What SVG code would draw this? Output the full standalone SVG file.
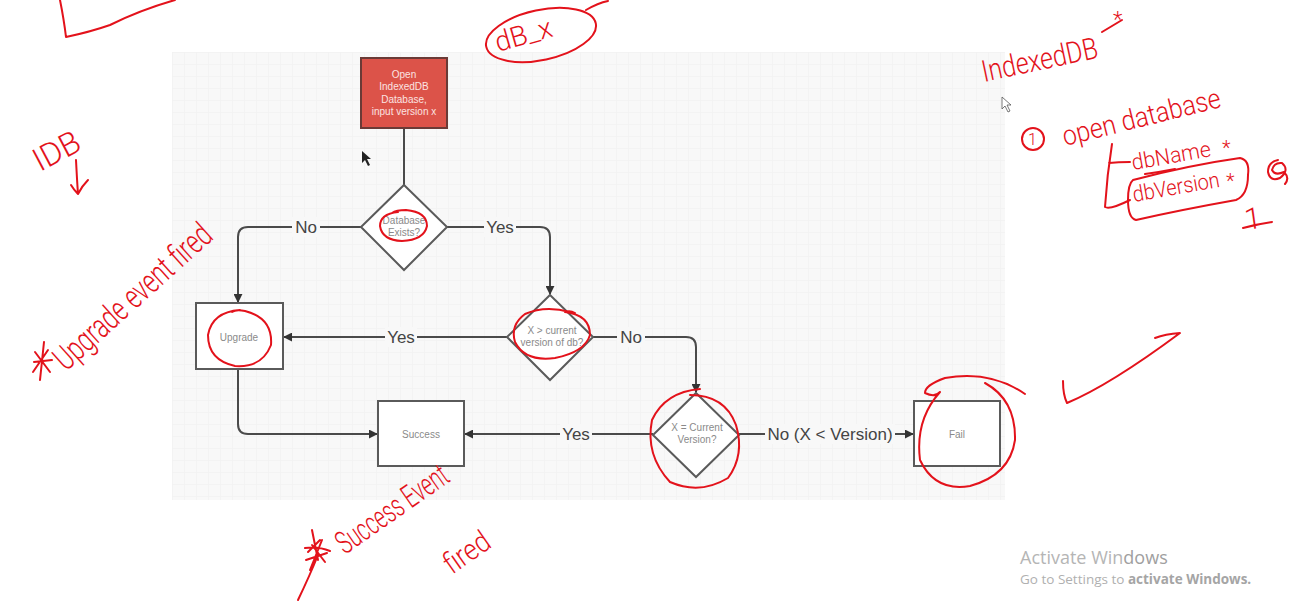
<svg xmlns="http://www.w3.org/2000/svg" width="1295" height="603" viewBox="0 0 1295 603">
<defs>
<pattern id="grid" x="172" y="52" width="12" height="12" patternUnits="userSpaceOnUse">
<path d="M12 0H0V12" fill="none" stroke="#ececec" stroke-width="1"/>
</pattern>
<marker id="arr" viewBox="0 0 10 10" refX="9" refY="5" markerWidth="9" markerHeight="9" markerUnits="userSpaceOnUse" orient="auto">
<path d="M0 0L10 5L0 10z" fill="#333"/>
</marker>
</defs>
<style>
.node{fill:#fff;stroke:#5a5a5a;stroke-width:2}
.nt{font-family:"Liberation Sans",Arial,sans-serif;font-size:10px;fill:#8a8a8a;text-anchor:middle}
.wt{font-family:"Liberation Sans",Arial,sans-serif;font-size:10px;fill:#fbe3e1;text-anchor:middle}
.con{fill:none;stroke:#4a4a4a;stroke-width:2}
.lbl{font-family:"Liberation Sans",Arial,sans-serif;font-size:17px;fill:#444;text-anchor:middle}
.lbg{fill:#f8f8f8}
.ink{fill:none;stroke:#e3121b;stroke-width:2;stroke-linecap:round;stroke-linejoin:round}
.hw{font-family:Roboto,"DejaVu Sans",sans-serif;font-weight:300;fill:#e3121b}
.win1{font-family:"Open Sans","Liberation Sans",sans-serif;font-size:18px;fill:#b5b5b5}
.win2{font-family:"Open Sans","Liberation Sans",sans-serif;font-size:13.5px;fill:#b0b0b0}
</style>
<rect width="1295" height="603" fill="#fff"/>
<rect x="172" y="52" width="833" height="448" fill="#f8f8f8"/>
<rect x="172" y="52" width="833" height="448" fill="url(#grid)" opacity="0.7"/>

<g id="connectors">
<path class="con" d="M404 128V185"/>
<path class="con" d="M361 227H248Q238 227 238 237V302" marker-end="url(#arr)"/>
<path class="con" d="M447 227H540Q550 227 550 237V294" marker-end="url(#arr)"/>
<path class="con" d="M507 337H284" marker-end="url(#arr)"/>
<path class="con" d="M593 337H686Q696 337 696 347V392" marker-end="url(#arr)"/>
<path class="con" d="M653 434H465" marker-end="url(#arr)"/>
<path class="con" d="M739 434H913" marker-end="url(#arr)"/>
<path class="con" d="M238 369V424Q238 434 248 434H377" marker-end="url(#arr)"/>
<rect class="lbg" x="292" y="217" width="28" height="20"/>
<text class="lbl" x="306" y="233">No</text>
<rect class="lbg" x="484" y="217" width="32" height="20"/>
<text class="lbl" x="500" y="233">Yes</text>
<rect class="lbg" x="385" y="327" width="32" height="20"/>
<text class="lbl" x="401" y="343">Yes</text>
<rect class="lbg" x="617" y="327" width="28" height="20"/>
<text class="lbl" x="631" y="343">No</text>
<rect class="lbg" x="560" y="424" width="32" height="20"/>
<text class="lbl" x="576" y="440">Yes</text>
<rect class="lbg" x="765" y="424" width="130" height="20"/>
<text class="lbl" x="830" y="440">No (X &lt; Version)</text>
</g>

<g id="open">
<rect x="361" y="58" width="86" height="70" fill="#dc5349" stroke="#6a3a36" stroke-width="2"/>
<text class="wt" x="404" y="78">Open</text>
<text class="wt" x="404" y="90">IndexedDB</text>
<text class="wt" x="404" y="103">Database,</text>
<text class="wt" x="404" y="115">input version x</text>
</g>
<g id="exists">
<path class="node" d="M404 185L447 227L404 270L361 227Z"/>
<text class="nt" x="404" y="224">Database</text>
<text class="nt" x="404" y="236">Exists?</text>
</g>
<g id="greater">
<path class="node" d="M550 295L593 337L550 380L507 337Z"/>
<text class="nt" x="552" y="334">X &gt; current</text>
<text class="nt" x="552" y="346">version of db?</text>
</g>
<g id="equal">
<path class="node" d="M696 393L739 435L696 477L653 435Z"/>
<text class="nt" x="697" y="431">X = Current</text>
<text class="nt" x="697" y="443">Version?</text>
</g>
<g id="upgrade">
<rect class="node" x="196" y="303" width="87" height="66"/>
<text class="nt" x="239" y="341">Upgrade</text>
</g>
<g id="success">
<rect class="node" x="378" y="401" width="86" height="65"/>
<text class="nt" x="421" y="438">Success</text>
</g>
<g id="fail">
<rect class="node" x="914" y="401" width="86" height="65"/>
<text class="nt" x="957" y="438">Fail</text>
</g>

<g id="cursors">
<path d="M362 151L362 163L365 160L368 166L370 165L367 159L371 159Z" fill="#222"/>
<path d="M1002 97L1002 109L1005 106L1008 112L1010 111L1007 105L1011 105Z" fill="#fff" stroke="#555" stroke-width="0.8"/>
</g>

<g id="annotations">
<path class="ink" d="M60 0Q64 20 66 37Q90 32 110 25Q140 10 175 0"/>
<ellipse class="ink" cx="541" cy="35" rx="56" ry="25" transform="rotate(-12 541 35)"/>
<path class="ink" d="M586 10Q598 3 608 1"/>
<text class="hw" font-size="28" transform="translate(498 52) rotate(-16)">dB_x</text>

<path class="ink" d="M398 212Q380 214 380 226Q382 240 402 241Q424 240 427 226Q427 212 406 210Q396 210 392 213"/>
<path class="ink" d="M570 312Q545 305 525 314Q510 325 515 342Q525 362 555 358Q585 352 590 335Q590 315 565 312Q570 310 575 313"/>
<path class="ink" d="M700 389Q665 392 652 420Q645 455 670 482Q700 495 728 478Q745 455 736 425Q725 395 690 395"/>
<path class="ink" d="M240 310Q212 312 208 335Q208 360 235 366Q262 368 271 345Q273 318 245 311Q236 309 232 312"/>
<path class="ink" d="M1025 394Q990 370 945 378Q925 385 925 393Q935 398 940 392Q915 420 920 460Q935 492 970 486Q1010 475 1015 440Q1016 400 985 383"/>
<path class="ink" d="M1063 381Q1063 395 1067 403Q1110 385 1180 333Q1165 334 1155 338"/>

<text class="hw" font-size="30" transform="translate(984 82) rotate(-12)" textLength="118" lengthAdjust="spacingAndGlyphs">IndexedDB</text>
<path class="ink" d="M1102 32L1122 20"/>
<text class="hw" font-size="22" transform="translate(1113 27)">*</text>
<circle class="ink" cx="1033" cy="139" r="11"/>
<text class="hw" font-size="16" x="1028" y="145">1</text>
<text class="hw" font-size="28" transform="translate(1065 146) rotate(-14)" textLength="162" lengthAdjust="spacingAndGlyphs">open database</text>
<path class="ink" d="M1112 144Q1107 175 1105 207Q1110 210 1130 200M1109 163Q1118 162 1130 162"/>
<text class="hw" font-size="22" transform="translate(1133 170) rotate(-10)" textLength="80" lengthAdjust="spacingAndGlyphs">dbName</text>
<text class="hw" font-size="20" transform="translate(1222 155)">*</text>
<path class="ink" d="M1145 174Q1160 172 1175 169"/>
<path class="ink" d="M1133 180Q1190 165 1240 158Q1250 160 1248 175Q1248 195 1236 200Q1180 210 1136 220Q1128 218 1128 200Q1128 184 1133 180Z"/>
<text class="hw" font-size="22" transform="translate(1134 202) rotate(-10)" textLength="88" lengthAdjust="spacingAndGlyphs">dbVersion</text>
<text class="hw" font-size="20" transform="translate(1226 188)">*</text>
<path class="ink" d="M1278 160Q1268 162 1268 172Q1270 182 1280 178Q1290 170 1282 163Q1274 162 1272 170Q1275 176 1284 172Q1290 178 1285 184"/>
<text class="hw" font-size="30" transform="translate(1246 230) rotate(-8)">1</text>
<path class="ink" d="M1243 228Q1258 224 1272 222"/>

<text class="hw" font-size="32" transform="translate(40 172) rotate(-28)">IDB</text>
<path class="ink" d="M76 160Q77 180 78 194M71 185Q74 190 78 194Q82 186 88 180"/>

<path class="ink" d="M40 380L44 342M35 352L50 372M48 350L33 372M34 362L52 360"/>
<text class="hw" font-size="34" transform="translate(66 372) rotate(-42)" textLength="200" lengthAdjust="spacingAndGlyphs">Upgrade event fired</text>

<path class="ink" d="M298 600Q310 575 318 555M312 530L318 560M305 548Q318 546 330 551M310 570L322 540M306 560L327 553M312 545L325 562M308 552L320 540"/>
<text class="hw" font-size="32" transform="translate(345 555) rotate(-35)" textLength="130" lengthAdjust="spacingAndGlyphs">Success Event</text>
<text class="hw" font-size="30" transform="translate(452 575) rotate(-35)" textLength="50" lengthAdjust="spacingAndGlyphs">fired</text>
</g>

<g id="watermark">
<text class="win1" x="1020" y="564">Activate Win<tspan fill="#a0a0a0">dows</tspan></text>
<text class="win2" x="1020" y="584">Go to Settings to <tspan font-weight="bold" fill="#a5a5a5">activate Windows.</tspan></text>
</g>
</svg>
